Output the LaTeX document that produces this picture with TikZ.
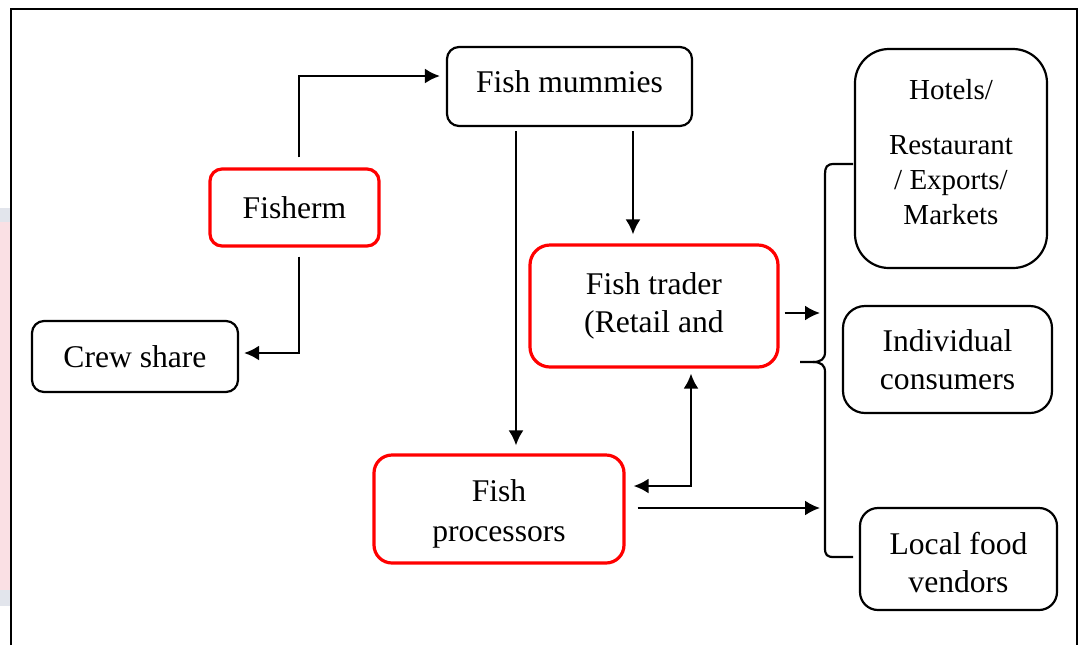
\documentclass[tikz,border=0pt]{standalone}
\usepackage{fontspec}
\setmainfont{Liberation Serif}
\usetikzlibrary{arrows.meta,calc}
\definecolor{pinkstrip}{RGB}{250,224,228}
\definecolor{greystrip}{RGB}{226,229,236}
\begin{document}
\begin{tikzpicture}[x=0.5pt,y=-0.5pt,
  box/.style={draw, line width=1.1pt, rounded corners=6pt, inner sep=0pt, align=center,
              font=\fontsize{15.8}{19}\selectfont},
  redbox/.style={box, draw=red, line width=1.6pt},
  txt/.style={inner sep=0pt, align=center, font=\fontsize{15.8}{19}\selectfont},
  arr/.style={line width=1.1pt, -{Latex[length=7.5pt,width=7.5pt]}},
  darr/.style={line width=1.1pt, {Latex[length=7.5pt,width=7.5pt]}-{Latex[length=7.5pt,width=7.5pt]}},
  bracestyle/.style={line width=1.1pt}]
\useasboundingbox (0,0) rectangle (1082,645);
% left strip artefact
\fill[greystrip] (0,208) rectangle (10,222);
\fill[pinkstrip] (0,222) rectangle (10,590);
\fill[greystrip] (0,590) rectangle (10,606);
% frame
\draw[line width=1.2pt] (11,645) -- (11,9) -- (1077,9) -- (1077,645);

% nodes
\node[redbox, minimum width=84.5pt, minimum height=38.5pt] (fisherm) at (294.5,207.5) {Fisherm};
\node[box, minimum width=122.5pt, minimum height=39.5pt] (mummies) at (569.5,86.5) {};
\node[txt] (mummiestext) at (569.5,82) {Fish mummies};
\node[redbox, rounded corners=10pt, minimum width=124pt, minimum height=61pt] (trader) at (654,306) {Fish trader\\(Retail and};
\node[box, minimum width=103pt, minimum height=35.5pt] (crew) at (135,356.5) {Crew share};
\node[redbox, rounded corners=9pt, minimum width=125pt, minimum height=54pt] (processors) at (499,509) {};
\node[txt, font=\fontsize{15.8}{20}\selectfont] (processorstext) at (499,514) {Fish\\processors};
\node[box, rounded corners=17pt, minimum width=96pt, minimum height=109.5pt] (hotels) at (951,158.5) {};
\node[align=center, inner sep=0pt, font=\fontsize{14.5}{17.5}\selectfont] (hotelstext) at (951,152) {Hotels/\\[10pt]Restaurant\\/ Exports/\\Markets};
\node[box, rounded corners=11pt, minimum width=104.5pt, minimum height=53.5pt] (individual) at (947.5,359.5) {Individual\\consumers};
\node[box, rounded corners=9pt, minimum width=98.5pt, minimum height=51pt] (local) at (958.5,559) {};
\node[txt] (localtext) at (958.5,563) {Local food\\vendors};

% brace
\coordinate (bt) at (820,313);
\coordinate (bb) at (820,508);
\draw[bracestyle] (853,164) -- (834,164) .. controls (827,164) and (825,167) .. (825,174)
  -- (825,352) .. controls (825,359) and (821,362) .. (813,362) -- (800,362);
\draw[bracestyle] (813,362) .. controls (821,362) and (825,365) .. (825,372)
  -- (825,548) .. controls (825,555) and (827,557) .. (834,557) -- (853,557);

% connectors
\draw[arr] ($(fisherm.north)+(4.5,-10)$) |- ($(mummies.west)+(-6,-10.5)$);
\draw[arr] ($(fisherm.south)+(4.5,9)$) |- ($(crew.east)+(5,-3.5)$);
\draw[arr] ($(mummies.south)+(-53.5,4)$) -- ($(processors.north)+(17,-8)$);
\draw[arr] ($(mummies.south)+(63.5,4)$) -- ($(trader.north)+(-21,-9)$);
\draw[arr] ($(trader.east)+(5,7)$) -- (bt);
\draw[darr] ($(processors.east)+(8,-23)$) -| ($(trader.south)+(37,5)$);
\draw[arr] ($(processors.east)+(12,-1)$) -- (bb);
\end{tikzpicture}
\end{document}
